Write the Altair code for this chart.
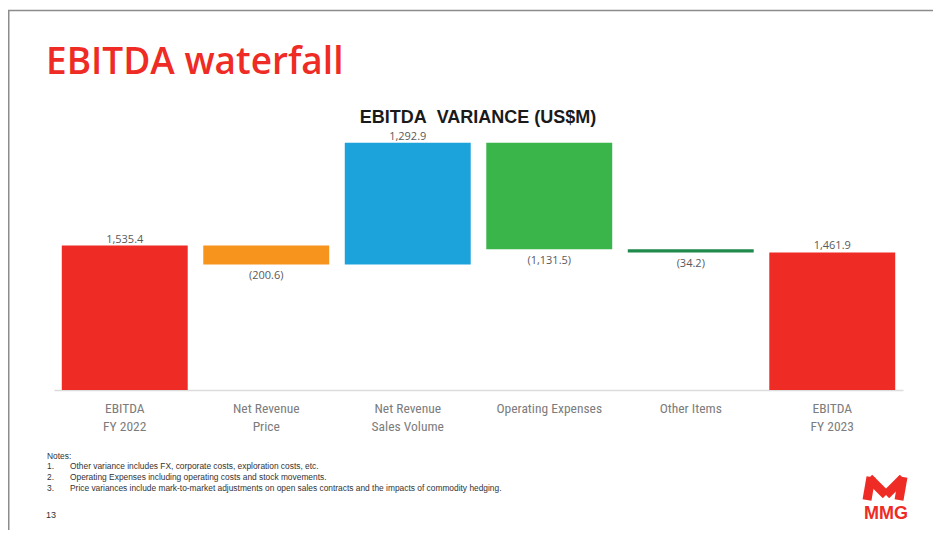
import altair as alt
import pandas as pd

categories = ["EBITDA|FY 2022", "Net Revenue|Price", "Net Revenue|Sales Volume",
              "Operating Expenses", "Other Items", "EBITDA|FY 2023"]
amounts = [1535.4, -200.6, 1292.9, -1131.5, -34.2, 1461.9]
kinds = ["total", "delta", "delta", "delta", "delta", "total"]
colors = ["#EE2B24", "#F7941D", "#1CA3DC", "#3AB54A", "#1F8A4C", "#EE2B24"]

rows = []
running = 0.0
for cat, amt, kind, col in zip(categories, amounts, kinds, colors):
    if kind == "total":
        start, end = 0.0, amt
        running = amt
    else:
        start, end = running, running + amt
        running = end
    label = f"{abs(amt):,.1f}"
    if amt < 0:
        label = f"({label})"
    rows.append(dict(cat=cat, start=start, end=end, top=max(start, end),
                     bottom=min(start, end), color=col, label=label,
                     neg=amt < 0))
df = pd.DataFrame(rows)

NARROW = "Liberation Sans Narrow, Arial Narrow, Roboto Condensed, Liberation Sans, sans-serif"
GRAY = "#595959"
RED = "#EE2B24"

xenc = alt.X("cat:N", sort=categories,
             scale=alt.Scale(paddingInner=0.11, paddingOuter=0.055),
             axis=alt.Axis(title=None, ticks=False, labelAngle=0,
                           labelExpr="split(datum.value, '|')",
                           labelFont=NARROW, labelFontSize=13.5, labelColor="#7c7c7c",
                           labelPadding=11, labelLineHeight=18,
                           domainColor="#DCDCDC", domainWidth=1.5))
yscale = alt.Scale(domain=[0, 2700], nice=False, zero=True)

base = alt.Chart(df)
bars = base.mark_bar().encode(
    x=xenc,
    y=alt.Y("start:Q", scale=yscale, axis=None),
    y2="end:Q",
    color=alt.Color("color:N", scale=None),
)
pos_labels = base.transform_filter("!datum.neg").mark_text(
    baseline="alphabetic", dy=-3, font="Open Sans", fontSize=11, color=GRAY
).encode(x=alt.X("cat:N", sort=categories), y=alt.Y("top:Q", scale=yscale), text="label:N")
neg_labels = base.transform_filter("datum.neg").mark_text(
    baseline="top", dy=6, font="Open Sans", fontSize=11, color=GRAY
).encode(x=alt.X("cat:N", sort=categories), y=alt.Y("bottom:Q", scale=yscale), text="label:N")


def txt(s, x, y, **kw):
    return alt.Chart(pd.DataFrame({"t": [s]})).mark_text(text=s, **kw).encode(
        x=alt.value(x), y=alt.value(y))


def rule(x, x2, y, y2, **kw):
    return alt.Chart(pd.DataFrame({"t": [0]})).mark_rule(**kw).encode(
        x=alt.value(x), x2=alt.value(x2), y=alt.value(y), y2=alt.value(y2))


OX, OY = 54, 136  # plot origin on page

title = txt("EBITDA waterfall", 46 - OX, 74 - OY, align="left", baseline="alphabetic",
            font="Open Sans", fontWeight=600, fontSize=37, color=RED)
subtitle = txt("EBITDA\u00a0 VARIANCE (US$M)", 478 - OX, 118 - OY, align="center",
               baseline="middle", font="Liberation Sans", fontWeight="bold",
               fontSize=18, color="#1a1a1a")

note_kw = dict(align="left", baseline="middle", font="Liberation Sans", fontSize=8.4,
               color="#333333")
notes = [
    txt("Notes:", 47 - OX, 456 - OY, **note_kw),
    txt("1.", 47 - OX, 466 - OY, **note_kw),
    txt("Other variance includes FX, corporate costs, exploration costs, etc.", 70 - OX, 466 - OY, **note_kw),
    txt("2.", 47 - OX, 477 - OY, **note_kw),
    txt("Operating Expenses including operating costs and stock movements.", 70 - OX, 477 - OY, **note_kw),
    txt("3.", 47 - OX, 488 - OY, **note_kw),
    txt("Price variances include mark-to-market adjustments on open sales contracts and the impacts of commodity hedging.", 70 - OX, 488 - OY, **note_kw),
]
page_no = txt("13", 46 - OX, 515 - OY, align="left", baseline="middle",
              font="Liberation Sans", fontSize=9, color="#333333")

# MMG logo: heavy slanted "M" drawn with thick strokes, plus wordmark
mk = dict(color=RED, strokeWidth=9, strokeCap="butt")
logo_parts = [
    rule(867 - OX, 871 - OX, 500 - OY, 477 - OY, **mk),
    rule(899 - OX, 903 - OX, 500 - OY, 477 - OY, **mk),
    rule(869 - OX, 886 - OX, 478 - OY, 495 - OY, **mk),
    rule(886 - OX, 903 - OX, 495 - OY, 478 - OY, **mk),
]
logo_t = txt("MMG", 886 - OX, 519 - OY, align="center", baseline="alphabetic",
             font="Liberation Sans", fontWeight="bold", fontSize=18, color=RED)

border_top = rule(8 - OX, 941 - OX, 10.5 - OY, 10.5 - OY, color="#8C8C8C", strokeWidth=1.5)
border_left = rule(8.75 - OX, 8.75 - OX, 10 - OY, 535 - OY, color="#8C8C8C", strokeWidth=1.5)

chart = alt.layer(
    border_top, border_left, bars, pos_labels, neg_labels, title, subtitle,
    *notes, page_no, *logo_parts, logo_t
).properties(
    width=849, height=254,
    padding={"left": OX - 8, "top": OY - 8, "right": 30, "bottom": 140},
    autosize=alt.AutoSizeParams(type="none"),
).configure_view(stroke=None)

chart.save("out.html", embed_options={"renderer": "svg", "actions": False})
